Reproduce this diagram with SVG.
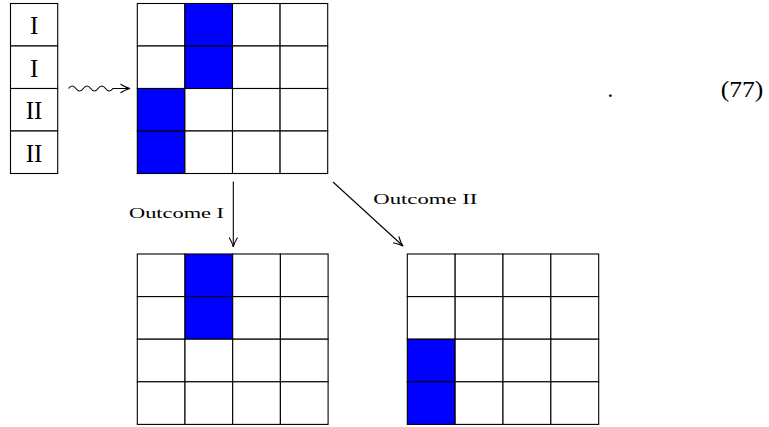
<svg xmlns="http://www.w3.org/2000/svg" width="769" height="427" viewBox="0 0 769 427">
  <style>
    .cell { fill: #ffffff; stroke: #000000; stroke-width: 1.1; }
    .on { fill: #0000ff; stroke: #000000; stroke-width: 1.1; }
    .lbl { font-family: "Liberation Serif", "Times New Roman", serif; font-size: 25px; fill: #000; text-anchor: middle; }
    .small { font-family: "Liberation Serif", "Times New Roman", serif; font-size: 15px; fill: #000; }
    .eq { font-family: "Liberation Serif", "Times New Roman", serif; font-size: 22.5px; fill: #000; }
    .edge { fill: none; stroke: #000000; stroke-width: 1.1; }
  </style>
  <defs>
    <marker id="to" markerUnits="userSpaceOnUse" viewBox="-11 -6 12 12" refX="0" refY="0" markerWidth="12" markerHeight="12" orient="auto">
      <path d="M-9.5,-4.2 Q-4,-0.8 0,0 Q-4,0.8 -9.5,4.2" fill="none" stroke="#000" stroke-width="1.1"/>
    </marker>
  </defs>

  <rect width="769" height="427" fill="#ffffff"/>

  <!-- register labels -->
  <g id="register">
    <rect class="cell" x="10.5" y="3.5" width="47.2" height="42.5"/>
    <rect class="cell" x="10.5" y="46" width="47.2" height="42.5"/>
    <rect class="cell" x="10.5" y="88.5" width="47.2" height="42.5"/>
    <rect class="cell" x="10.5" y="131" width="47.2" height="42.5"/>
    <text class="lbl" x="34.1" y="34.3">I</text>
    <text class="lbl" x="34.1" y="76.5">I</text>
    <text class="lbl" x="34.1" y="119.3">II</text>
    <text class="lbl" x="34.1" y="161.5">II</text>
  </g>

  <!-- initial grid -->
  <g id="grid-top">
    <g transform="translate(137.3,3.5)">
      <rect class="cell" x="0" y="0" width="47.6" height="42.5"/>
      <rect class="on" x="47.6" y="0" width="47.6" height="42.5"/>
      <rect class="cell" x="95.2" y="0" width="47.6" height="42.5"/>
      <rect class="cell" x="142.8" y="0" width="47.6" height="42.5"/>
      <rect class="cell" x="0" y="42.5" width="47.6" height="42.5"/>
      <rect class="on" x="47.6" y="42.5" width="47.6" height="42.5"/>
      <rect class="cell" x="95.2" y="42.5" width="47.6" height="42.5"/>
      <rect class="cell" x="142.8" y="42.5" width="47.6" height="42.5"/>
      <rect class="on" x="0" y="85" width="47.6" height="42.5"/>
      <rect class="cell" x="47.6" y="85" width="47.6" height="42.5"/>
      <rect class="cell" x="95.2" y="85" width="47.6" height="42.5"/>
      <rect class="cell" x="142.8" y="85" width="47.6" height="42.5"/>
      <rect class="on" x="0" y="127.5" width="47.6" height="42.5"/>
      <rect class="cell" x="47.6" y="127.5" width="47.6" height="42.5"/>
      <rect class="cell" x="95.2" y="127.5" width="47.6" height="42.5"/>
      <rect class="cell" x="142.8" y="127.5" width="47.6" height="42.5"/>
    </g>
  </g>

  <!-- outcome I grid -->
  <g id="grid-outcome-1">
    <g transform="translate(137.3,254)">
      <rect class="cell" x="0" y="0" width="47.7" height="42.6"/>
      <rect class="on" x="47.7" y="0" width="47.7" height="42.6"/>
      <rect class="cell" x="95.4" y="0" width="47.7" height="42.6"/>
      <rect class="cell" x="143.1" y="0" width="47.7" height="42.6"/>
      <rect class="cell" x="0" y="42.6" width="47.7" height="42.6"/>
      <rect class="on" x="47.7" y="42.6" width="47.7" height="42.6"/>
      <rect class="cell" x="95.4" y="42.6" width="47.7" height="42.6"/>
      <rect class="cell" x="143.1" y="42.6" width="47.7" height="42.6"/>
      <rect class="cell" x="0" y="85.2" width="47.7" height="42.6"/>
      <rect class="cell" x="47.7" y="85.2" width="47.7" height="42.6"/>
      <rect class="cell" x="95.4" y="85.2" width="47.7" height="42.6"/>
      <rect class="cell" x="143.1" y="85.2" width="47.7" height="42.6"/>
      <rect class="cell" x="0" y="127.8" width="47.7" height="42.6"/>
      <rect class="cell" x="47.7" y="127.8" width="47.7" height="42.6"/>
      <rect class="cell" x="95.4" y="127.8" width="47.7" height="42.6"/>
      <rect class="cell" x="143.1" y="127.8" width="47.7" height="42.6"/>
    </g>
  </g>

  <!-- outcome II grid -->
  <g id="grid-outcome-2">
    <g transform="translate(407.3,254)">
      <rect class="cell" x="0" y="0" width="47.85" height="42.6"/>
      <rect class="cell" x="47.85" y="0" width="47.85" height="42.6"/>
      <rect class="cell" x="95.7" y="0" width="47.85" height="42.6"/>
      <rect class="cell" x="143.55" y="0" width="47.85" height="42.6"/>
      <rect class="cell" x="0" y="42.6" width="47.85" height="42.6"/>
      <rect class="cell" x="47.85" y="42.6" width="47.85" height="42.6"/>
      <rect class="cell" x="95.7" y="42.6" width="47.85" height="42.6"/>
      <rect class="cell" x="143.55" y="42.6" width="47.85" height="42.6"/>
      <rect class="on" x="0" y="85.2" width="47.85" height="42.6"/>
      <rect class="cell" x="47.85" y="85.2" width="47.85" height="42.6"/>
      <rect class="cell" x="95.7" y="85.2" width="47.85" height="42.6"/>
      <rect class="cell" x="143.55" y="85.2" width="47.85" height="42.6"/>
      <rect class="on" x="0" y="127.8" width="47.85" height="42.6"/>
      <rect class="cell" x="47.85" y="127.8" width="47.85" height="42.6"/>
      <rect class="cell" x="95.7" y="127.8" width="47.85" height="42.6"/>
      <rect class="cell" x="143.55" y="127.8" width="47.85" height="42.6"/>
    </g>
  </g>

  <!-- connectors -->
  <g id="connectors">
    <path class="edge" d="M68.5 88.5 q3.7 -5 7.4 0 t7.4 0 t7.4 0 t7.4 0 t7.4 0 t7.4 0 L130 88.5" marker-end="url(#to)"/>
    <path class="edge" d="M233.3 181.5 L233.3 247" marker-end="url(#to)"/>
    <path class="edge" d="M333 182 L403 246" marker-end="url(#to)"/>
    <text class="small" x="129" y="217.5" textLength="95" lengthAdjust="spacingAndGlyphs">Outcome I</text>
    <text class="small" x="373.3" y="204" textLength="104" lengthAdjust="spacingAndGlyphs">Outcome II</text>
  </g>

  <!-- equation tag -->
  <g id="equation-tag">
    <text class="eq" x="607.5" y="96.5">.</text>
    <text class="eq" x="720.7" y="96.5" textLength="42.6" lengthAdjust="spacingAndGlyphs">(77)</text>
  </g>
</svg>
